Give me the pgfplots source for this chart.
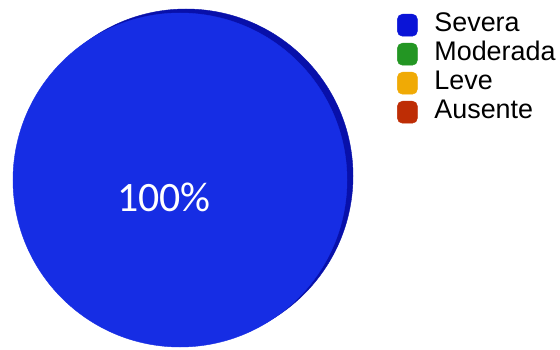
\documentclass[border=0pt]{standalone}
\usepackage{fontspec}
\setmainfont{Liberation Sans}
\newfontfamily\carlito{Carlito}
\usepackage{pgfplots}
\pgfplotsset{compat=1.18}
\definecolor{sev}{RGB}{22,45,228}
\definecolor{sevrim}{RGB}{8,16,170}
\definecolor{sevkey}{RGB}{10,20,215}
\definecolor{mod}{RGB}{35,150,35}
\definecolor{lev}{RGB}{240,170,5}
\definecolor{aus}{RGB}{190,45,5}
\begin{document}
\begin{tikzpicture}
\begin{axis}[
  scale only axis, width=560bp, height=349bp,
  xmin=0, xmax=560, ymin=0, ymax=349,
  hide axis, clip=false,
  legend style={at={(axis cs:397,336)}, anchor=north west, draw=none, fill=none,
    font=\fontsize{27}{29}\selectfont, inner sep=0pt, row sep=5bp,
    nodes={inner sep=0pt, text height=18bp, text depth=6bp}},
  legend cell align=left,
]
% rim (depth) of the pie
\addplot[only marks, mark=*, mark size=167bp, mark options={fill=sevrim, draw=sevrim}, forget plot]
  coordinates {(186,173)};
% Severa: 100 %
\addplot[only marks, mark=*, mark size=167bp, mark options={fill=sev, draw=sev}, forget plot,
  point meta=explicit,
  nodes near coords={\pgfmathprintnumber[assume math mode=true]{\pgfplotspointmeta}\%},
  every node near coord/.append style={text=white, font=\carlito\fontsize{42}{46}\selectfont,
    anchor=center, xshift=-16bp, yshift=-17bp}]
  coordinates {(180,169) [100]};
\addlegendimage{legend image code/.code={\fill[sevkey, rounded corners=5bp] (0bp,-11bp) rectangle (20bp,11bp); \path[draw=none] (0,0) -- (37bp,0);}}
\addlegendentry{Severa}
\addlegendimage{legend image code/.code={\fill[mod, rounded corners=5bp] (0bp,-11bp) rectangle (20bp,11bp); \path[draw=none] (0,0) -- (37bp,0);}}
\addlegendentry{Moderada}
\addlegendimage{legend image code/.code={\fill[lev, rounded corners=5bp] (0bp,-11bp) rectangle (20bp,11bp); \path[draw=none] (0,0) -- (37bp,0);}}
\addlegendentry{Leve}
\addlegendimage{legend image code/.code={\fill[aus, rounded corners=5bp] (0bp,-11bp) rectangle (20bp,11bp); \path[draw=none] (0,0) -- (37bp,0);}}
\addlegendentry{Ausente}
\end{axis}
\pgfresetboundingbox
\path (current axis.south west) rectangle (current axis.north east);
\end{tikzpicture}
\end{document}
